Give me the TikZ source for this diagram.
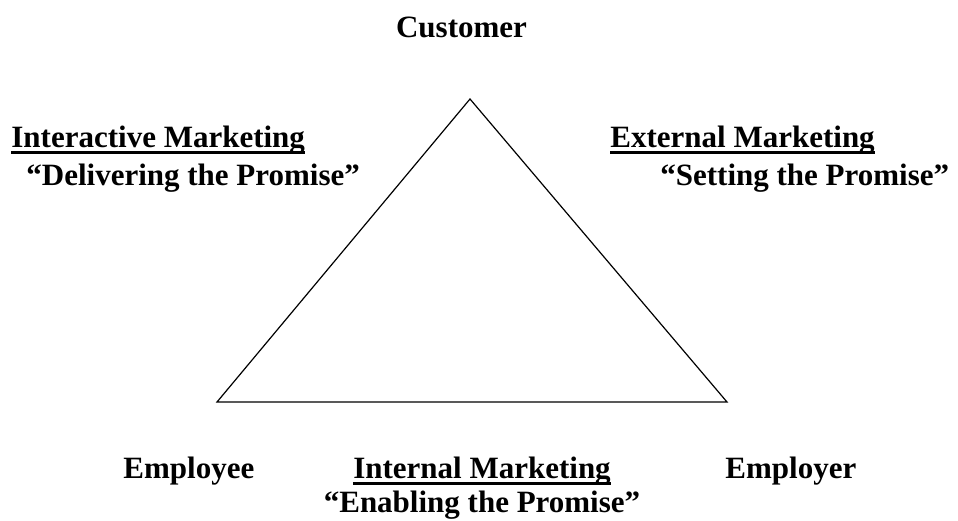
\documentclass[tikz,border=0pt]{standalone}
\usepackage{fontspec}
\setmainfont{Liberation Serif}
\usepackage{tikz}
\tikzstyle{label}=[font=\bfseries\fontsize{15.5}{19}\selectfont, inner sep=0pt,
  anchor=base west]
\tikzstyle{centred}=[label, anchor=base]
\tikzstyle{underl}=[draw, line width=1.3pt]
\tikzstyle{edge}=[draw, line width=0.6pt, line join=miter]
% rule under a heading node, just below its baseline
\newcommand{\markline}[1]{%
  \path[underl] ([yshift=-2.6pt]#1.base west) -- ([yshift=-2.6pt]#1.base east);}

\begin{document}
\begin{tikzpicture}[x=0.5pt,y=-0.5pt]
  \useasboundingbox (0,0) rectangle (958,520);

  % Top corner
  \node[centred] (cust) at (461.5,37) {Customer};

  % The triangle
  \coordinate (top) at (470,99);
  \coordinate (left) at (217,402);
  \coordinate (right) at (727,402);
  \path[edge] (top) -- (left) -- (right) -- cycle;

  % Left side
  \node[label] (inter) at (11,147) {Interactive Marketing};
  \node[label] (deliv) at (26,185) {“Delivering the Promise”};
  \markline{inter}

  % Right side
  \node[label] (extern) at (610,147) {External Marketing};
  \node[label] (setting) at (660,185) {“Setting the Promise”};
  \markline{extern}

  % Bottom row
  \node[label] (empee) at (123,478) {Employee};
  \node[centred] (intern) at (482,478) {Internal Marketing};
  \node[centred] (enabl) at (482,512) {“Enabling the Promise”};
  \node[label] (emper) at (725,478) {Employer};
  \markline{intern}
\end{tikzpicture}
\end{document}
